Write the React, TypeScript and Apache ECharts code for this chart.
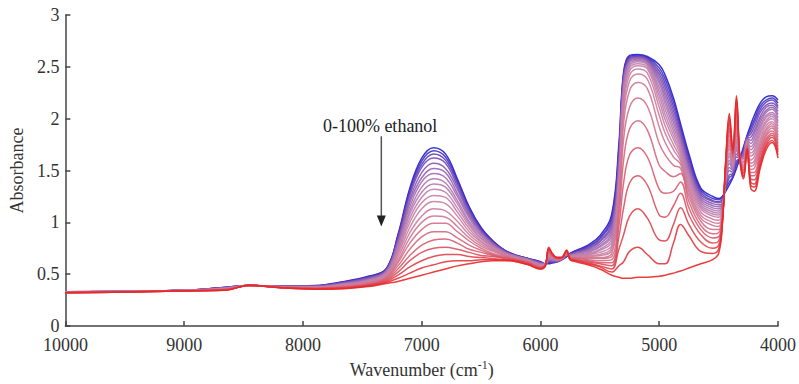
import React, { useEffect, useRef } from "react";
import * as echarts from "echarts";

// Ethanol content of each spectrum (0 % = water, blue ... 100 % = ethanol, red)
const ethanolPercent = [0, 5, 10, 15, 20, 25, 30, 35, 40, 45, 50, 55, 60, 65, 70, 75, 80, 85, 90, 95, 100];

// Each row: absorbance of the 21 spectra (0 % ... 100 % ethanol) at one wavenumber
const baselineWavenumbers = [10000, 9400, 8900, 8650, 8450, 8200, 7900, 7650, 7450];
const baselineRows = [
  [0.33, 0.33, 0.33, 0.33, 0.33, 0.33, 0.33, 0.33, 0.33, 0.33, 0.325, 0.325, 0.325, 0.325, 0.325, 0.325, 0.325, 0.32, 0.32, 0.32, 0.32],
  [0.335, 0.335, 0.335, 0.335, 0.335, 0.335, 0.335, 0.335, 0.335, 0.335, 0.333, 0.333, 0.333, 0.333, 0.333, 0.333, 0.33, 0.33, 0.33, 0.33, 0.33],
  [0.35, 0.35, 0.35, 0.35, 0.35, 0.348, 0.348, 0.347, 0.347, 0.346, 0.345, 0.345, 0.344, 0.344, 0.343, 0.343, 0.342, 0.342, 0.341, 0.341, 0.34],
  [0.375, 0.374, 0.372, 0.371, 0.369, 0.368, 0.366, 0.365, 0.363, 0.362, 0.36, 0.359, 0.357, 0.356, 0.354, 0.353, 0.351, 0.35, 0.348, 0.347, 0.345],
  [0.39, 0.39, 0.39, 0.39, 0.39, 0.39, 0.39, 0.39, 0.39, 0.39, 0.39, 0.39, 0.39, 0.39, 0.39, 0.39, 0.39, 0.39, 0.392, 0.393, 0.395],
  [0.385, 0.384, 0.384, 0.383, 0.382, 0.381, 0.381, 0.38, 0.379, 0.378, 0.378, 0.377, 0.376, 0.375, 0.375, 0.374, 0.373, 0.372, 0.372, 0.371, 0.37],
  [0.39, 0.388, 0.387, 0.385, 0.383, 0.381, 0.38, 0.378, 0.376, 0.374, 0.373, 0.371, 0.369, 0.367, 0.366, 0.364, 0.362, 0.36, 0.359, 0.357, 0.355],
  [0.43, 0.427, 0.423, 0.42, 0.416, 0.413, 0.409, 0.406, 0.402, 0.399, 0.395, 0.392, 0.388, 0.385, 0.381, 0.378, 0.374, 0.371, 0.367, 0.364, 0.36],
  [0.48, 0.475, 0.47, 0.465, 0.46, 0.455, 0.45, 0.445, 0.44, 0.435, 0.43, 0.425, 0.42, 0.415, 0.41, 0.405, 0.4, 0.395, 0.39, 0.385, 0.38],
];

const band7000Wavenumbers = [7300, 7200, 7100, 7000, 6900, 6800, 6700, 6600, 6500, 6400, 6300, 6200, 6100];
const band7000Rows = [
  [0.55, 0.55, 0.54, 0.54, 0.53, 0.53, 0.52, 0.52, 0.51, 0.5, 0.5, 0.49, 0.48, 0.47, 0.47, 0.46, 0.45, 0.44, 0.43, 0.42, 0.41],
  [0.88, 0.87, 0.86, 0.84, 0.82, 0.81, 0.79, 0.77, 0.75, 0.73, 0.71, 0.69, 0.66, 0.63, 0.61, 0.58, 0.55, 0.52, 0.49, 0.46, 0.43],
  [1.33, 1.31, 1.29, 1.26, 1.22, 1.19, 1.15, 1.11, 1.08, 1.04, 1.0, 0.95, 0.9, 0.85, 0.8, 0.74, 0.68, 0.63, 0.57, 0.51, 0.46],
  [1.62, 1.59, 1.56, 1.53, 1.48, 1.43, 1.39, 1.34, 1.29, 1.24, 1.19, 1.13, 1.06, 1.0, 0.93, 0.86, 0.78, 0.71, 0.63, 0.56, 0.49],
  [1.72, 1.69, 1.66, 1.62, 1.57, 1.52, 1.47, 1.42, 1.37, 1.32, 1.26, 1.2, 1.13, 1.06, 0.99, 0.91, 0.83, 0.75, 0.67, 0.59, 0.52],
  [1.66, 1.63, 1.6, 1.57, 1.52, 1.48, 1.43, 1.38, 1.34, 1.29, 1.24, 1.18, 1.11, 1.05, 0.99, 0.91, 0.84, 0.76, 0.69, 0.62, 0.55],
  [1.42, 1.4, 1.38, 1.35, 1.32, 1.28, 1.25, 1.21, 1.18, 1.14, 1.1, 1.06, 1.01, 0.96, 0.91, 0.85, 0.8, 0.74, 0.69, 0.63, 0.58],
  [1.15, 1.14, 1.12, 1.1, 1.08, 1.06, 1.04, 1.01, 0.99, 0.97, 0.94, 0.91, 0.88, 0.85, 0.82, 0.78, 0.74, 0.71, 0.67, 0.63, 0.6],
  [0.95, 0.94, 0.93, 0.92, 0.91, 0.9, 0.88, 0.87, 0.85, 0.84, 0.82, 0.81, 0.79, 0.77, 0.75, 0.73, 0.71, 0.68, 0.66, 0.64, 0.62],
  [0.82, 0.82, 0.81, 0.8, 0.8, 0.79, 0.78, 0.77, 0.77, 0.76, 0.75, 0.74, 0.73, 0.72, 0.7, 0.69, 0.68, 0.67, 0.65, 0.64, 0.63],
  [0.73, 0.73, 0.73, 0.72, 0.72, 0.71, 0.71, 0.71, 0.7, 0.7, 0.69, 0.69, 0.68, 0.68, 0.67, 0.66, 0.66, 0.65, 0.64, 0.64, 0.63],
  [0.68, 0.68, 0.68, 0.67, 0.67, 0.67, 0.67, 0.67, 0.66, 0.66, 0.66, 0.65, 0.65, 0.65, 0.64, 0.64, 0.64, 0.63, 0.63, 0.62, 0.62],
  [0.65, 0.65, 0.65, 0.65, 0.64, 0.64, 0.64, 0.64, 0.63, 0.63, 0.63, 0.62, 0.62, 0.62, 0.61, 0.61, 0.61, 0.6, 0.6, 0.59, 0.59],
];

const region5900Wavenumbers = [6000, 5960, 5930, 5900, 5860, 5820, 5780, 5750, 5700, 5600, 5500, 5400];
const region5900Rows = [
  [0.62, 0.62, 0.61, 0.61, 0.61, 0.6, 0.6, 0.6, 0.59, 0.59, 0.59, 0.58, 0.58, 0.57, 0.57, 0.57, 0.56, 0.56, 0.56, 0.55, 0.55],
  [0.6, 0.6, 0.6, 0.6, 0.6, 0.6, 0.6, 0.59, 0.59, 0.59, 0.59, 0.59, 0.59, 0.59, 0.59, 0.59, 0.58, 0.58, 0.58, 0.58, 0.58],
  [0.6, 0.61, 0.62, 0.62, 0.63, 0.64, 0.65, 0.66, 0.66, 0.67, 0.68, 0.69, 0.7, 0.7, 0.71, 0.72, 0.73, 0.74, 0.74, 0.75, 0.76],
  [0.61, 0.61, 0.62, 0.62, 0.63, 0.63, 0.64, 0.64, 0.65, 0.65, 0.66, 0.66, 0.66, 0.67, 0.67, 0.68, 0.68, 0.69, 0.69, 0.7, 0.7],
  [0.62, 0.62, 0.62, 0.63, 0.63, 0.63, 0.63, 0.63, 0.64, 0.64, 0.64, 0.64, 0.64, 0.65, 0.65, 0.65, 0.65, 0.65, 0.66, 0.66, 0.66],
  [0.64, 0.64, 0.64, 0.64, 0.64, 0.65, 0.65, 0.65, 0.65, 0.65, 0.65, 0.65, 0.65, 0.65, 0.65, 0.66, 0.66, 0.66, 0.66, 0.66, 0.66],
  [0.67, 0.67, 0.68, 0.68, 0.68, 0.69, 0.69, 0.69, 0.69, 0.7, 0.7, 0.7, 0.71, 0.71, 0.71, 0.72, 0.72, 0.72, 0.72, 0.73, 0.73],
  [0.7, 0.7, 0.69, 0.69, 0.69, 0.69, 0.68, 0.68, 0.68, 0.67, 0.67, 0.67, 0.66, 0.66, 0.66, 0.66, 0.65, 0.65, 0.65, 0.64, 0.64],
  [0.73, 0.72, 0.72, 0.71, 0.71, 0.7, 0.7, 0.69, 0.69, 0.68, 0.68, 0.67, 0.66, 0.66, 0.65, 0.65, 0.64, 0.64, 0.63, 0.63, 0.62],
  [0.78, 0.77, 0.76, 0.75, 0.74, 0.73, 0.72, 0.71, 0.7, 0.69, 0.69, 0.68, 0.67, 0.66, 0.65, 0.64, 0.63, 0.62, 0.61, 0.6, 0.59],
  [0.87, 0.85, 0.84, 0.82, 0.81, 0.79, 0.77, 0.76, 0.74, 0.73, 0.71, 0.69, 0.68, 0.66, 0.65, 0.63, 0.61, 0.6, 0.58, 0.57, 0.55],
  [1.08, 1.05, 1.02, 0.99, 0.96, 0.93, 0.9, 0.87, 0.84, 0.81, 0.78, 0.76, 0.73, 0.7, 0.67, 0.64, 0.61, 0.58, 0.55, 0.52, 0.49],
];

const band5200Wavenumbers = [5340, 5300, 5250, 5180, 5100, 5000, 4950, 4880, 4820, 4750, 4650, 4550, 4500];
const band5200Rows = [
  [1.75, 1.7, 1.66, 1.62, 1.58, 1.54, 1.5, 1.46, 1.42, 1.38, 1.34, 1.3, 1.26, 1.2, 1.14, 1.06, 0.96, 0.86, 0.74, 0.58, 0.47],
  [2.45, 2.43, 2.41, 2.39, 2.37, 2.35, 2.32, 2.29, 2.26, 2.22, 2.18, 2.12, 2.05, 1.95, 1.8, 1.6, 1.38, 1.14, 0.88, 0.62, 0.46],
  [2.61, 2.6, 2.59, 2.58, 2.57, 2.56, 2.55, 2.53, 2.51, 2.49, 2.46, 2.42, 2.36, 2.27, 2.11, 1.9, 1.65, 1.38, 1.06, 0.72, 0.46],
  [2.62, 2.61, 2.6, 2.6, 2.59, 2.58, 2.57, 2.56, 2.55, 2.53, 2.51, 2.48, 2.43, 2.35, 2.2, 1.98, 1.72, 1.45, 1.13, 0.76, 0.47],
  [2.6, 2.59, 2.58, 2.57, 2.56, 2.55, 2.54, 2.53, 2.52, 2.5, 2.48, 2.44, 2.38, 2.29, 2.12, 1.89, 1.63, 1.36, 1.04, 0.69, 0.47],
  [2.52, 2.49, 2.46, 2.43, 2.4, 2.37, 2.34, 2.3, 2.26, 2.22, 2.17, 2.11, 2.03, 1.92, 1.76, 1.55, 1.32, 1.07, 0.83, 0.6, 0.48],
  [2.42, 2.38, 2.34, 2.3, 2.26, 2.22, 2.18, 2.14, 2.09, 2.04, 1.99, 1.93, 1.86, 1.77, 1.65, 1.49, 1.28, 1.05, 0.82, 0.6, 0.49],
  [2.2, 2.16, 2.12, 2.08, 2.04, 2.0, 1.96, 1.92, 1.88, 1.84, 1.8, 1.75, 1.7, 1.63, 1.55, 1.44, 1.3, 1.16, 0.98, 0.8, 0.51],
  [1.95, 1.92, 1.89, 1.86, 1.83, 1.8, 1.77, 1.74, 1.71, 1.68, 1.65, 1.62, 1.59, 1.56, 1.52, 1.47, 1.39, 1.28, 1.14, 0.98, 0.53],
  [1.66, 1.63, 1.6, 1.57, 1.54, 1.52, 1.49, 1.47, 1.44, 1.41, 1.38, 1.35, 1.32, 1.29, 1.25, 1.2, 1.14, 1.07, 0.98, 0.87, 0.56],
  [1.33, 1.31, 1.29, 1.27, 1.25, 1.23, 1.21, 1.19, 1.17, 1.15, 1.13, 1.1, 1.07, 1.04, 1.01, 0.97, 0.93, 0.88, 0.81, 0.72, 0.6],
  [1.25, 1.23, 1.21, 1.2, 1.18, 1.16, 1.14, 1.12, 1.1, 1.08, 1.06, 1.03, 1.0, 0.97, 0.93, 0.89, 0.85, 0.8, 0.75, 0.7, 0.64],
  [1.23, 1.22, 1.2, 1.19, 1.17, 1.15, 1.13, 1.11, 1.09, 1.07, 1.05, 1.02, 0.99, 0.96, 0.93, 0.9, 0.86, 0.82, 0.78, 0.74, 0.7],
];

const band4300Wavenumbers = [4470, 4440, 4410, 4380, 4350, 4320, 4290, 4260, 4230, 4200, 4150, 4100, 4050, 4000];
const band4300Rows = [
  [1.25, 1.24, 1.22, 1.21, 1.19, 1.18, 1.16, 1.15, 1.13, 1.12, 1.1, 1.09, 1.07, 1.06, 1.04, 1.03, 1.01, 1.0, 0.98, 0.97, 0.95],
  [1.3, 1.32, 1.33, 1.35, 1.36, 1.38, 1.39, 1.41, 1.42, 1.44, 1.45, 1.47, 1.48, 1.5, 1.51, 1.53, 1.54, 1.56, 1.57, 1.59, 1.6],
  [1.36, 1.39, 1.43, 1.46, 1.5, 1.53, 1.57, 1.6, 1.64, 1.67, 1.71, 1.74, 1.77, 1.8, 1.84, 1.88, 1.91, 1.95, 1.98, 2.02, 2.05],
  [1.43, 1.44, 1.46, 1.47, 1.48, 1.5, 1.51, 1.52, 1.54, 1.55, 1.57, 1.58, 1.59, 1.61, 1.62, 1.63, 1.65, 1.66, 1.67, 1.69, 1.7],
  [1.52, 1.56, 1.59, 1.63, 1.66, 1.7, 1.73, 1.77, 1.8, 1.84, 1.87, 1.91, 1.94, 1.98, 2.01, 2.05, 2.08, 2.12, 2.15, 2.19, 2.22],
  [1.62, 1.62, 1.62, 1.62, 1.62, 1.62, 1.61, 1.61, 1.61, 1.61, 1.61, 1.61, 1.61, 1.61, 1.61, 1.61, 1.6, 1.6, 1.6, 1.6, 1.6],
  [1.73, 1.71, 1.7, 1.68, 1.67, 1.65, 1.64, 1.62, 1.61, 1.59, 1.58, 1.56, 1.54, 1.53, 1.51, 1.5, 1.48, 1.47, 1.45, 1.44, 1.42],
  [1.84, 1.83, 1.83, 1.82, 1.81, 1.81, 1.8, 1.79, 1.78, 1.78, 1.77, 1.76, 1.76, 1.75, 1.74, 1.74, 1.73, 1.72, 1.71, 1.71, 1.7],
  [1.94, 1.91, 1.88, 1.85, 1.82, 1.79, 1.76, 1.73, 1.7, 1.67, 1.64, 1.6, 1.57, 1.54, 1.51, 1.48, 1.45, 1.42, 1.39, 1.36, 1.33],
  [2.03, 1.99, 1.96, 1.92, 1.88, 1.85, 1.81, 1.77, 1.74, 1.7, 1.67, 1.63, 1.59, 1.56, 1.52, 1.48, 1.45, 1.41, 1.37, 1.34, 1.3],
  [2.15, 2.12, 2.09, 2.06, 2.02, 1.99, 1.96, 1.93, 1.9, 1.87, 1.84, 1.8, 1.77, 1.74, 1.71, 1.68, 1.65, 1.61, 1.58, 1.55, 1.52],
  [2.21, 2.18, 2.16, 2.13, 2.11, 2.08, 2.06, 2.03, 2.01, 1.98, 1.96, 1.93, 1.9, 1.88, 1.85, 1.83, 1.8, 1.78, 1.75, 1.73, 1.7],
  [2.22, 2.2, 2.18, 2.15, 2.13, 2.11, 2.09, 2.06, 2.04, 2.02, 2.0, 1.97, 1.95, 1.93, 1.91, 1.88, 1.86, 1.84, 1.82, 1.79, 1.77],
  [2.18, 2.15, 2.12, 2.1, 2.07, 2.04, 2.01, 1.98, 1.96, 1.93, 1.9, 1.87, 1.84, 1.82, 1.79, 1.76, 1.73, 1.7, 1.68, 1.65, 1.62],
];

// Axis ticks
const xTicks = { min: 4000, max: 10000, interval: 1000 };
const yTicks = { min: 0, max: 3, interval: 0.5 };

// Annotation ("0-100% ethanol" with downward arrow), in data coordinates
const annotationLabel = "0-100% ethanol";
const annotationTextAt = [7350, 1.93];
const arrowWavenumber = 7340;
const arrowFrom = 1.83;
const arrowTo = 0.96;

const FONT = '"Liberation Serif", "Times New Roman", serif';

const allWavenumbers = [
  ...baselineWavenumbers,
  ...band7000Wavenumbers,
  ...region5900Wavenumbers,
  ...band5200Wavenumbers,
  ...band4300Wavenumbers,
];
const allRows = [...baselineRows, ...band7000Rows, ...region5900Rows, ...band5200Rows, ...band4300Rows];

// Blue (water) -> red (ethanol); middle spectra paler, as in the original figure
function lineColor(k: number, n: number) {
  const t = n <= 1 ? 0 : k / (n - 1);
  const h = Math.pow(t, 0.7);
  const r0 = 30 + (232 - 30) * h;
  const g0 = 30 + (40 - 30) * h;
  const b0 = 210 + (40 - 210) * h;
  const w = 0.42 * Math.sin(Math.PI * t);
  const r = Math.round(r0 + (255 - r0) * w);
  const g = Math.round(g0 + (255 - g0) * w);
  const b = Math.round(b0 + (255 - b0) * w);
  return `rgb(${r},${g},${b})`;
}

export default function App() {
  const ref = useRef<HTMLDivElement>(null);
  useEffect(() => {
    document.body.style.margin = "0";
    if (!ref.current) return;
    const chart = echarts.init(ref.current, undefined, { renderer: "svg" });
    const n = ethanolPercent.length;
    const series = ethanolPercent.map((pct, k) => ({
      type: "line",
      name: `${pct}% ethanol`,
      data: allWavenumbers.map((w, i) => [w, allRows[i][k]]),
      showSymbol: false,
      smooth: 0.4,
      lineStyle: { width: 1.5, color: lineColor(k, n), opacity: 0.9 },
      itemStyle: { color: lineColor(k, n) },
      z: 2 + k,
    }));
    chart.setOption({
      animation: false,
      backgroundColor: "#ffffff",
      grid: { left: 62, right: 20, top: 15, bottom: 56, containLabel: false },
      xAxis: {
        type: "value",
        inverse: true,
        min: xTicks.min,
        max: xTicks.max,
        interval: xTicks.interval,
        name: "{n|Wavenumber (cm}{s|-1}{n|)}",
        nameLocation: "middle",
        nameGap: 33,
        nameTextStyle: {
          rich: {
            n: { fontFamily: FONT, fontSize: 18, color: "#333", lineHeight: 22 },
            s: { fontFamily: FONT, fontSize: 12, color: "#333", verticalAlign: "top", lineHeight: 14 },
          },
        },
        axisLine: { show: true, lineStyle: { color: "#444", width: 1.5 } },
        axisTick: { show: true, inside: true, length: 5, lineStyle: { color: "#444", width: 1.5 } },
        axisLabel: {
          fontFamily: FONT,
          fontSize: 18,
          color: "#333",
          margin: 10,
          formatter: (v: number) => String(v),
        },
        splitLine: { show: false },
      },
      yAxis: {
        type: "value",
        min: yTicks.min,
        max: yTicks.max,
        interval: yTicks.interval,
        name: "Absorbance",
        nameLocation: "middle",
        nameGap: 33,
        nameTextStyle: { fontFamily: FONT, fontSize: 18, color: "#333" },
        axisLine: { show: true, lineStyle: { color: "#444", width: 1.5 } },
        axisTick: { show: true, inside: true, length: 5, lineStyle: { color: "#444", width: 1.5 } },
        axisLabel: { fontFamily: FONT, fontSize: 18, color: "#333", margin: 6 },
        splitLine: { show: false },
      },
      series,
    });

    const textPt = chart.convertToPixel({ gridIndex: 0 }, annotationTextAt) as number[];
    const a1 = chart.convertToPixel({ gridIndex: 0 }, [arrowWavenumber, arrowFrom]) as number[];
    const a2 = chart.convertToPixel({ gridIndex: 0 }, [arrowWavenumber, arrowTo]) as number[];
    chart.setOption({
      graphic: [
        {
          type: "text",
          x: textPt[0],
          y: textPt[1],
          z: 100,
          style: {
            text: annotationLabel,
            fontFamily: FONT,
            fontSize: 18,
            fill: "#222",
            textAlign: "center",
            textVerticalAlign: "middle",
          },
        },
        {
          type: "line",
          z: 100,
          shape: { x1: a1[0], y1: a1[1], x2: a2[0], y2: a2[1] - 9 },
          style: { stroke: "#555", lineWidth: 1.5 },
        },
        {
          type: "polygon",
          z: 100,
          shape: {
            points: [
              [a2[0] - 4.5, a2[1] - 11],
              [a2[0] + 4.5, a2[1] - 11],
              [a2[0], a2[1]],
            ],
          },
          style: { fill: "#222" },
        },
      ],
    });

    return () => chart.dispose();
  }, []);
  return <div ref={ref} style={{ position: "absolute", left: 0, top: 0, width: 799, height: 384 }} />;
}
